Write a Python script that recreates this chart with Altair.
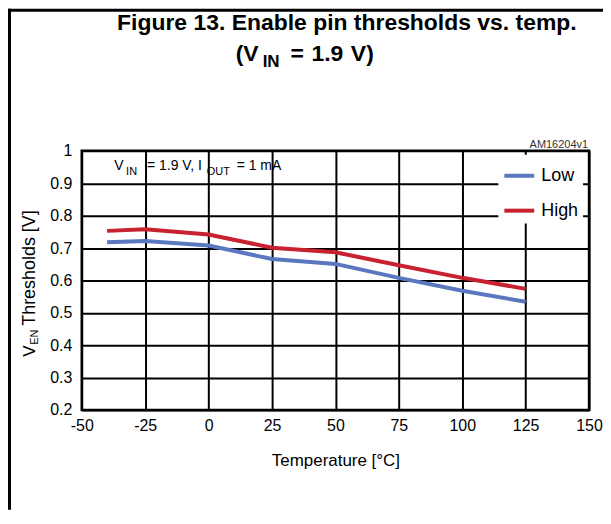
import altair as alt
import pandas as pd

# ---- data ----
temps = [-40, -25, 0, 25, 50, 75, 100, 125]
low_vals = [0.718, 0.722, 0.708, 0.666, 0.651, 0.608, 0.568, 0.534]
high_vals = [0.753, 0.758, 0.742, 0.701, 0.687, 0.647, 0.608, 0.574]
series_names = ["Low", "High"]
series_colors = ["#5a78c0", "#c8212f"]
x_ticks = [-50, -25, 0, 25, 50, 75, 100, 125, 150]
y_ticks = [0.2, 0.3, 0.4, 0.5, 0.6, 0.7, 0.8, 0.9, 1.0]

FONT = "Liberation Sans"
W, H = 509, 260

rows = []
for t, v in zip(temps, low_vals):
    rows.append({"temp": t, "value": v, "series": "Low"})
for t, v in zip(temps, high_vals):
    rows.append({"temp": t, "value": v, "series": "High"})
df = pd.DataFrame(rows)

xs = alt.Scale(domain=[-50, 150], nice=False)
ys = alt.Scale(domain=[0.2, 1.0], nice=False)

lines = alt.Chart(df).mark_line(strokeWidth=4, strokeCap="butt").encode(
    x=alt.X("temp:Q", scale=xs,
            axis=alt.Axis(values=x_ticks, labelExpr="'' + datum.value",
                          labelFlush=False, labelOverlap=False,
                          title="Temperature [°C]", titleFontSize=17,
                          titleFontWeight="normal", titleFont=FONT,
                          titlePadding=19, labelPadding=8)),
    y=alt.Y("value:Q", scale=ys,
            axis=alt.Axis(values=y_ticks, format=".1~f", title=None,
                          labelFlush=False, labelOverlap=False,
                          labelPadding=10)),
    color=alt.Color("series:N",
                    scale=alt.Scale(domain=series_names, range=series_colors),
                    legend=alt.Legend(title=None, orient="none", legendX=418, legendY=4,
                                      fillColor="white", padding=4,
                                      symbolType="stroke", symbolSize=900,
                                      symbolStrokeWidth=4, labelFontSize=18,
                                      labelFont=FONT, labelColor="black",
                                      rowPadding=9, labelOffset=5)),
    detail="series:N",
)

# annotation inside the plot: V_IN = 1.9 V, I_OUT = 1 mA
ann_text = ["V", "IN", "= 1.9 V, I", "OUT", "= 1 mA"]
ann_x = [32.5, 44.5, 65.5, 125.5, 155.5]
ann_y = [19.5, 24, 19.5, 24, 19.5]
ann_size = [14, 11, 14, 11, 14]
ann = alt.layer(*[
    alt.Chart(pd.DataFrame({"t": [t]})).mark_text(
        align="left", baseline="alphabetic", font=FONT, fontSize=s, color="black"
    ).encode(x=alt.value(x), y=alt.value(y), text="t:N")
    for t, x, y, s in zip(ann_text, ann_x, ann_y, ann_size)
])

# figure title (two lines, second with subscript)
title_text = ["Figure 13. Enable pin thresholds vs. temp.", "(V", "IN", "=", "1.9", "V)"]
title_x = [266, 154.5, 181.5, 209.5, 230.5, 270]
title_y = [-121, -90, -84.5, -90, -90, -90]
title_size = [23, 23, 17, 23, 23, 23]
title_align = ["center", "left", "left", "left", "left", "left"]
ttl = alt.layer(*[
    alt.Chart(pd.DataFrame({"t": [t]})).mark_text(
        align=a, baseline="alphabetic", font=FONT, fontSize=s, fontWeight="bold", color="black"
    ).encode(x=alt.value(x), y=alt.value(y), text="t:N")
    for t, x, y, s, a in zip(title_text, title_x, title_y, title_size, title_align)
])

# rotated y axis title: V_EN Thresholds [V]
yt_text = ["V", "EN", "Thresholds [V]"]
yt_x = [-47, -44, -47]
yt_y = [206.5, 194.5, 175.5]
yt_size = [17, 11, 18]
ytl = alt.layer(*[
    alt.Chart(pd.DataFrame({"t": [t]})).mark_text(
        align="left", baseline="alphabetic", angle=270, font=FONT, fontSize=s, color="black"
    ).encode(x=alt.value(x), y=alt.value(y), text="t:N")
    for t, x, y, s in zip(yt_text, yt_x, yt_y, yt_size)
])

tag = alt.Chart(pd.DataFrame({"t": ["AM16204v1"]})).mark_text(
    align="right", baseline="alphabetic", font=FONT, fontSize=11, color="#333333"
).encode(x=alt.value(508), y=alt.value(-2.5), text="t:N")

# outer frame lines (left and top), drawn at the canvas edge
frame_left = alt.Chart(pd.DataFrame({"a": [0]})).mark_rule(color="black", strokeWidth=3).encode(
    x=alt.value(-72.5), y=alt.value(-142.5), y2=alt.value(360))
frame_top = alt.Chart(pd.DataFrame({"a": [0]})).mark_rule(color="black", strokeWidth=3).encode(
    x=alt.value(-74), x2=alt.value(523), y=alt.value(-141))

chart = alt.layer(lines, ann, ttl, ytl, tag, frame_left, frame_top).properties(
    width=W, height=H,
    autosize=alt.AutoSizeParams(type="none"),
    padding={"left": 74, "top": 142.5, "right": 14, "bottom": 100},
).configure_view(
    stroke="black", strokeWidth=2.5
).configure_axis(
    grid=True, gridColor="black", gridWidth=2, gridOpacity=1,
    ticks=False, domain=False,
    labelFont=FONT, labelFontSize=16, labelColor="black",
)

chart.save("out.html", embed_options={"renderer": "svg", "actions": False})
